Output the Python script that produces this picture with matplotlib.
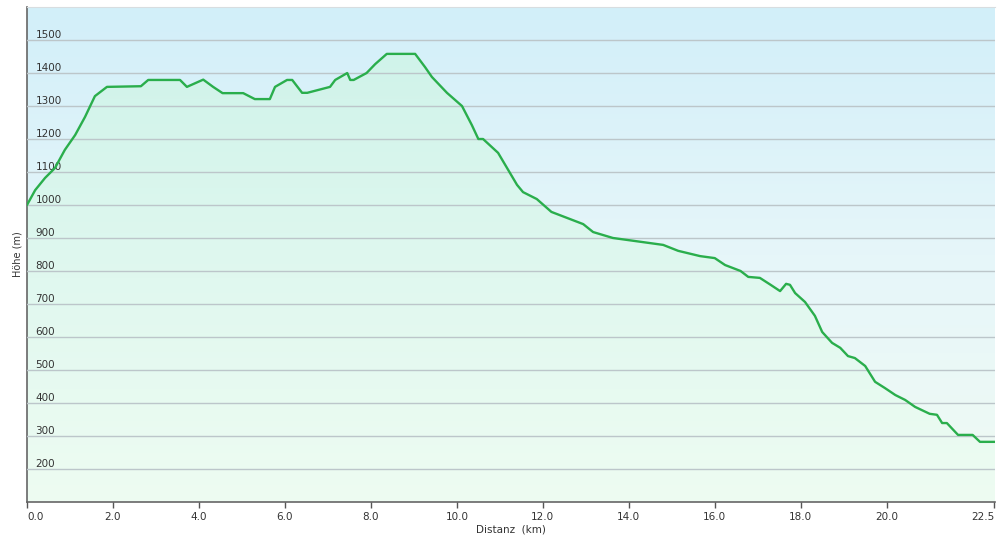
import numpy as np
import matplotlib
matplotlib.use("Agg")
import matplotlib.pyplot as plt
from matplotlib.colors import LinearSegmentedColormap

# Höhenprofil: Distanz (km) und Höhe (m)
distanz = [0.0, 0.19, 0.42, 0.65, 0.88, 1.12, 1.35, 1.58, 1.86, 2.65, 2.82, 3.56,
           3.72, 4.1, 4.33, 4.55, 5.03, 5.3, 5.65, 5.77, 6.05, 6.17, 6.4, 6.52,
           7.05, 7.17, 7.45, 7.52, 7.6, 7.9, 8.1, 8.37, 9.03, 9.26, 9.42, 9.77,
           10.12, 10.35, 10.5, 10.61, 10.96, 11.4, 11.54, 11.86, 12.2, 12.94,
           13.17, 13.63, 14.8, 15.15, 15.66, 16.0, 16.24, 16.6, 16.78, 17.05,
           17.3, 17.52, 17.66, 17.75, 17.87, 18.1, 18.33, 18.5, 18.73, 18.92,
           19.1, 19.26, 19.5, 19.73, 19.96, 20.2, 20.43, 20.66, 21.0, 21.17,
           21.29, 21.4, 21.66, 22.0, 22.17, 22.52]
hoehe = [1000, 1045, 1082, 1112, 1167, 1212, 1267, 1330, 1358, 1360, 1379, 1379,
         1358, 1380, 1358, 1339, 1339, 1321, 1321, 1358, 1379, 1379, 1340, 1340,
         1358, 1379, 1400, 1379, 1379, 1400, 1427, 1458, 1458, 1418, 1388, 1340,
         1300, 1242, 1200, 1200, 1158, 1061, 1039, 1018, 979, 942,
         918, 900, 879, 861, 845, 839, 818, 800, 782, 779,
         758, 739, 761, 758, 733, 706, 664, 615, 582, 567,
         542, 536, 512, 464, 445, 424, 409, 388, 367, 364,
         339, 339, 303, 303, 282, 282]

y_ticks = [200, 300, 400, 500, 600, 700, 800, 900, 1000, 1100, 1200, 1300, 1400, 1500]
x_ticks = [0.0, 2.0, 4.0, 6.0, 8.0, 10.0, 12.0, 14.0, 16.0, 18.0, 20.0, 22.5]

fig = plt.figure(figsize=(10, 5.42), dpi=100)
ax = fig.add_axes([0.027, 0.074, 0.968, 0.913])
ax.set_xlim(0, 22.52)
ax.set_ylim(100, 1600)

# Hintergrund-Verlauf (blau oben, grünlich unten)
bg = LinearSegmentedColormap.from_list("bg", ["#f0fbf3", "#e6f6fa", "#d2eff9"])
grad = np.linspace(0, 1, 256).reshape(-1, 1)
ax.imshow(grad, aspect="auto", cmap=bg, origin="lower",
          extent=[0, 1, 0, 1], transform=ax.transAxes, zorder=0)

# Fläche unter der Linie mit Verlauf
poly = ax.fill_between(distanz, hoehe, 100, color="none", zorder=1)
fl = LinearSegmentedColormap.from_list("fl", ["#eefcf2", "#e0f8ef", "#d0f3ea"])
img = ax.imshow(grad, aspect="auto", cmap=fl, origin="lower",
                extent=[0, 22.52, 100, 1460], zorder=1)
img.set_clip_path(poly.get_paths()[0], transform=ax.transData)

ax.plot(distanz, hoehe, color="#2aae4c", lw=1.7, zorder=3,
        solid_joinstyle="round")

ax.set_yticks(y_ticks)
ax.set_xticks(x_ticks)
ax.set_xticklabels([f"{t:.1f}" for t in x_ticks])
ax.grid(axis="y", color="#bcc6ca", lw=1, zorder=2)
ax.set_axisbelow(False)

ax.tick_params(axis="y", length=0, pad=-6, labelsize=7.5, colors="#333333")
for lab in ax.get_yticklabels():
    lab.set_horizontalalignment("left")
    lab.set_verticalalignment("bottom")
ax.tick_params(axis="x", length=4, width=1, color="#555555", labelsize=7.5,
               labelcolor="#333333", pad=3)
xlabs = ax.get_xticklabels()
xlabs[0].set_horizontalalignment("left")
xlabs[-1].set_horizontalalignment("right")

for s in ["left", "bottom"]:
    ax.spines[s].set_color("#666666")
    ax.spines[s].set_linewidth(1.2)
ax.spines["top"].set_color("#d8dde0")
ax.spines["right"].set_visible(False)

ax.set_xlabel("Distanz  (km)", fontsize=7.5, color="#333333", labelpad=2)
ax.set_ylabel("Höhe (m)", fontsize=7, color="#333333", labelpad=3)

fig.savefig("out.png", dpi=100, facecolor="white")
